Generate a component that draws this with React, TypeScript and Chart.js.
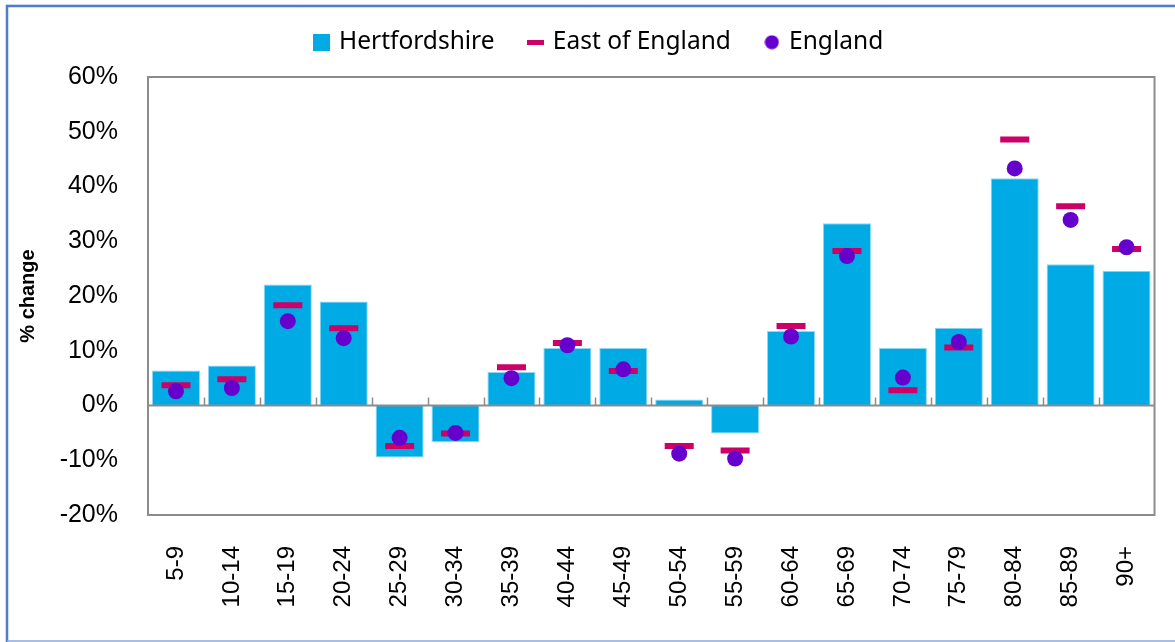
import React, { useEffect, useRef } from "react";
import { Chart, registerables } from "chart.js";

Chart.register(...registerables);

const categories = ["5-9", "10-14", "15-19", "20-24", "25-29", "30-34", "35-39", "40-44", "45-49", "50-54", "55-59", "60-64", "65-69", "70-74", "75-79", "80-84", "85-89", "90+"];
const hertfordshire = [6.4, 7.3, 22.1, 19.0, -9.5, -6.7, 6.1, 10.5, 10.5, 1.1, -5.1, 13.6, 33.3, 10.5, 14.2, 41.5, 25.8, 24.6];
const eastOfEngland = [3.7, 4.8, 18.3, 14.1, -7.4, -5.1, 7.0, 11.4, 6.3, -7.4, -8.2, 14.5, 28.2, 2.8, 10.6, 48.6, 36.4, 28.6];
const england = [2.6, 3.2, 15.4, 12.3, -5.9, -5.0, 5.0, 11.0, 6.6, -8.8, -9.7, 12.6, 27.3, 5.1, 11.6, 43.3, 33.9, 28.9];
const yMin = -20;
const yMax = 60;
const yStep = 10;

const BAR_COLOR = "#00AAE4";
const EAST_COLOR = "#CC0066";
const ENG_COLOR = "#6600CC";

function makeSwatch(kind: string): HTMLCanvasElement {
  const c = document.createElement("canvas");
  if (kind === "rect") {
    c.width = 17; c.height = 17;
    const g = c.getContext("2d")!;
    g.fillStyle = BAR_COLOR; g.fillRect(0, 0, 17, 17);
  } else if (kind === "line") {
    c.width = 17; c.height = 5;
    const g = c.getContext("2d")!;
    g.fillStyle = EAST_COLOR; g.fillRect(0, 0, 17, 5);
  } else {
    c.width = 15; c.height = 15;
    const g = c.getContext("2d")!;
    g.fillStyle = ENG_COLOR; g.beginPath(); g.arc(7.5, 7.5, 7, 0, Math.PI * 2); g.fill();
  }
  return c;
}

const LEGEND_SHIFT = 20;

const framePlugin = {
  id: "frame",
  beforeLayout(chart: any) {
    const lg = chart.legend;
    if (lg && !lg._fixedFit) {
      const orig = lg.fit.bind(lg);
      lg.fit = () => {
        orig();
        lg.height = 83;
      };
      lg._fixedFit = true;
    }
  },
  afterLayout(chart: any) {
    const lg = chart.legend;
    if (lg) {
      lg.left += LEGEND_SHIFT;
      lg.right += LEGEND_SHIFT;
    }
  },
  beforeDraw(chart: any) {
    const ctx = chart.ctx;
    ctx.save();
    ctx.fillStyle = "#ffffff";
    ctx.fillRect(0, 0, chart.width, chart.height);
    ctx.strokeStyle = "#4E7DCB";
    ctx.lineWidth = 2.5;
    ctx.beginPath();
    ctx.moveTo(7, chart.height);
    ctx.lineTo(7, 6);
    ctx.lineTo(chart.width, 6);
    ctx.stroke();
    ctx.strokeStyle = "#C9D6EE";
    ctx.lineWidth = 1;
    ctx.beginPath();
    ctx.moveTo(6, 4.5);
    ctx.lineTo(chart.width, 4.5);
    ctx.stroke();
    ctx.strokeStyle = "#8EA9DB";
    ctx.lineWidth = 1.5;
    ctx.beginPath();
    ctx.moveTo(7, chart.height - 1);
    ctx.lineTo(chart.width, chart.height - 1);
    ctx.stroke();
    ctx.restore();
  },
  afterDatasetsDraw(chart: any) {
    const ctx = chart.ctx;
    const a = chart.chartArea;
    const x = chart.scales.x;
    const y = chart.scales.y;
    const zy = y.getPixelForValue(0);
    ctx.save();
    ctx.strokeStyle = "#8C8C8C";
    ctx.lineWidth = 2;
    ctx.beginPath();
    ctx.moveTo(a.left, zy);
    ctx.lineTo(a.right, zy);
    ctx.stroke();
    const n = categories.length;
    ctx.lineWidth = 1.5;
    for (let i = 1; i < n; i++) {
      const px = Math.round((x.getPixelForValue(i - 1) + x.getPixelForValue(i)) / 2) + 0.5;
      ctx.beginPath();
      ctx.moveTo(px, zy - 8);
      ctx.lineTo(px, zy);
      ctx.stroke();
    }
    ctx.lineWidth = 2;
    ctx.strokeRect(a.left, a.top, a.right - a.left, a.bottom - a.top);
    ctx.restore();
  },
};

export default function App() {
  const ref = useRef<HTMLCanvasElement | null>(null);
  useEffect(() => {
    if (!ref.current) return;
    const swatches = [makeSwatch("rect"), makeSwatch("line"), makeSwatch("circle")];
    const chart = new Chart(ref.current, {
      type: "bar",
      data: {
        labels: categories,
        datasets: [
          {
            type: "bar",
            label: "Hertfordshire",
            data: hertfordshire,
            backgroundColor: BAR_COLOR,
            borderColor: "#8ED8F4",
            borderWidth: 1,
            barPercentage: 0.86,
            categoryPercentage: 1.0,
            order: 3,
          } as any,
          {
            type: "line",
            label: "East of England",
            data: eastOfEngland,
            showLine: false,
            pointStyle: "line",
            pointRadius: 14.5,
            pointHoverRadius: 14.5,
            pointBorderWidth: 6,
            pointHoverBorderWidth: 6,
            borderColor: EAST_COLOR,
            backgroundColor: EAST_COLOR,
            order: 2,
          } as any,
          {
            type: "line",
            label: "England",
            data: england,
            showLine: false,
            pointStyle: "circle",
            pointRadius: 8,
            pointHoverRadius: 8,
            pointBorderWidth: 0,
            borderColor: ENG_COLOR,
            backgroundColor: ENG_COLOR,
            order: 1,
          } as any,
        ],
      },
      options: {
        responsive: false,
        animation: false,
        devicePixelRatio: 1,
        layout: { padding: { left: 0, right: 15, top: -6, bottom: 0 } },
        plugins: {
          tooltip: { enabled: false },
          legend: {
            position: "top",
            align: "center",
            labels: {
              usePointStyle: true,
              boxWidth: 10,
              boxHeight: 10,
              padding: 36,
              color: "#000000",
              font: { family: "Noto Sans", size: 24.5 },
              generateLabels(ch: any) {
                const items = Chart.defaults.plugins.legend.labels.generateLabels(ch);
                items.sort((p: any, q: any) => p.datasetIndex - q.datasetIndex);
                items.forEach((it: any) => {
                  it.pointStyle = swatches[it.datasetIndex];
                });
                return items;
              },
            },
          },
        },
        scales: {
          x: {
            grid: { display: false, drawTicks: false },
            border: { display: false },
            ticks: {
              minRotation: 90,
              maxRotation: 90,
              autoSkip: false,
              padding: 31,
              color: "#000000",
              font: { family: "Liberation Sans", size: 24 },
            },
            afterFit(scale: any) {
              scale.height = 127;
              scale.paddingLeft = 0;
              scale.paddingRight = 0;
            },
          },
          y: {
            min: yMin,
            max: yMax,
            grid: { display: false, drawTicks: false },
            border: { display: false },
            ticks: {
              stepSize: yStep,
              padding: 30,
              color: "#000000",
              font: { family: "Liberation Sans", size: 25 },
              callback: (v: any) => `${v}%`,
            },
            title: {
              display: true,
              text: "% change",
              color: "#000000",
              font: { family: "Liberation Sans", size: 20, weight: "bold" },
              padding: { top: 16, bottom: 0 },
            },
            afterFit(scale: any) {
              scale.width = 148;
              scale.paddingTop = 0;
              scale.paddingBottom = 0;
            },
          },
        },
      },
      plugins: [framePlugin],
    } as any);
    return () => chart.destroy();
  }, []);
  return (
    <div style={{ position: "absolute", left: 0, top: 0, width: 1175, height: 642 }}>
      <canvas ref={ref} width={1175} height={642} style={{ display: "block" }} />
    </div>
  );
}
